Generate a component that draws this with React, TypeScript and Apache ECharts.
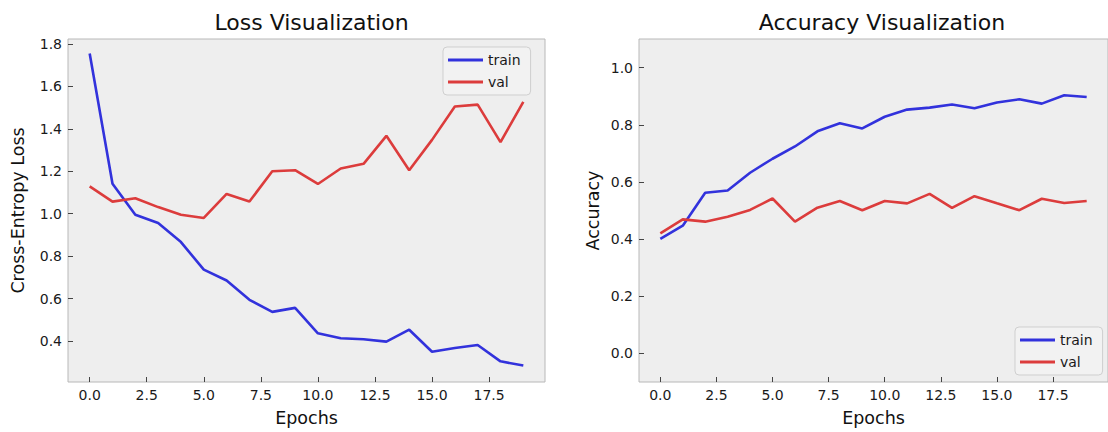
import React, { useEffect, useRef } from "react";
import * as echarts from "echarts";

const epochs = [0, 1, 2, 3, 4, 5, 6, 7, 8, 9, 10, 11, 12, 13, 14, 15, 16, 17, 18, 19];
const lossTrain = [1.755, 1.141, 0.995, 0.956, 0.866, 0.736, 0.685, 0.594, 0.537, 0.556, 0.436, 0.413, 0.408, 0.397, 0.453, 0.349, 0.367, 0.381, 0.304, 0.284];
const lossVal = [1.129, 1.057, 1.073, 1.031, 0.995, 0.98, 1.093, 1.057, 1.2, 1.205, 1.14, 1.213, 1.235, 1.367, 1.205, 1.348, 1.505, 1.514, 1.337, 1.527];
const accTrain = [0.401, 0.447, 0.562, 0.57, 0.632, 0.681, 0.724, 0.777, 0.805, 0.787, 0.828, 0.853, 0.86, 0.871, 0.858, 0.878, 0.889, 0.874, 0.903, 0.897];
const accVal = [0.42, 0.469, 0.461, 0.478, 0.502, 0.542, 0.461, 0.51, 0.533, 0.501, 0.533, 0.525, 0.558, 0.509, 0.55, 0.525, 0.501, 0.541, 0.526, 0.533];
const seriesNames = ["train", "val"];
const titles = ["Loss Visualization", "Accuracy Visualization"];
const yNames = ["Cross-Entropy Loss", "Accuracy"];
const xName = "Epochs";

const FONT = "DejaVu Sans";
const BLUE = "#3232dc";
const RED = "#dc3c3c";

const fmtStep = (step: number) => (v: number) =>
  Math.abs(v / step - Math.round(v / step)) < 1e-6 ? v.toFixed(1) : "";

export default function App() {
  const ref = useRef<HTMLDivElement>(null);
  useEffect(() => {
    if (!ref.current) return;
    const chart = echarts.init(ref.current, undefined, { renderer: "svg" });
    const pairs = (ys: number[]) => epochs.map((e, i) => [e, ys[i]]);
    const xAxisBase = (gridIndex: number) => ({
      type: "value",
      gridIndex,
      min: -0.95,
      max: 19.95,
      minInterval: 2.5,
      maxInterval: 2.5,
      name: xName,
      nameLocation: "middle",
      nameGap: 27,
      nameTextStyle: { fontFamily: FONT, fontSize: 17.5, color: "#111" },
      axisLine: { show: false, onZero: false },
      axisTick: { show: true, inside: true, length: 5, lineStyle: { color: "#444", width: 1 } },
      splitLine: { show: false },
      axisLabel: { formatter: fmtStep(2.5), margin: 6, fontFamily: FONT, fontSize: 14, color: "#1a1a1a", showMinLabel: false, showMaxLabel: false },
    });
    const yAxisBase = (gridIndex: number, min: number, max: number, name: string, gap: number) => ({
      type: "value",
      gridIndex,
      min,
      max,
      minInterval: 0.2,
      maxInterval: 0.2,
      name,
      nameLocation: "middle",
      nameGap: gap,
      nameTextStyle: { fontFamily: FONT, fontSize: 17.5, color: "#111" },
      axisLine: { show: false, onZero: false },
      axisTick: { show: true, inside: true, length: 5, lineStyle: { color: "#444", width: 1 } },
      splitLine: { show: false },
      axisLabel: { formatter: fmtStep(0.2), margin: 6, fontFamily: FONT, fontSize: 14, color: "#1a1a1a", showMinLabel: false, showMaxLabel: false },
    });
    const legendBase = (left: number, top: number) => ({
      left,
      top,
      orient: "vertical",
      data: seriesNames,
      icon: "rect",
      itemWidth: 35,
      itemHeight: 3,
      itemGap: 8,
      padding: [6, 10, 6, 5],
      backgroundColor: "#f2f2f2",
      borderColor: "#cfcfcf",
      borderWidth: 1,
      borderRadius: 4,
      selectedMode: false,
      textStyle: { fontFamily: FONT, fontSize: 14, color: "#1a1a1a" },
    });
    const lineSeries = (name: string, ys: number[], idx: number, color: string) => ({
      type: "line",
      name,
      xAxisIndex: idx,
      yAxisIndex: idx,
      data: pairs(ys),
      showSymbol: false,
      symbol: "none",
      color,
      lineStyle: { color, width: 2.6 },
    });
    chart.setOption({
      animation: false,
      title: [
        { text: titles[0], left: 306.5, top: 6, textAlign: "center", textStyle: { fontFamily: FONT, fontSize: 22, fontWeight: "normal", color: "#111" } },
        { text: titles[1], left: 877, top: 6, textAlign: "center", textStyle: { fontFamily: FONT, fontSize: 22, fontWeight: "normal", color: "#111" } },
      ],
      grid: [
        { left: 68, top: 39, width: 477, height: 347, show: true, backgroundColor: "#eeeeee", borderColor: "#b8b8b8", borderWidth: 1 },
        { left: 639, top: 39, width: 476, height: 347, show: true, backgroundColor: "#eeeeee", borderColor: "#b8b8b8", borderWidth: 1 },
      ],
      xAxis: [xAxisBase(0), xAxisBase(1)],
      yAxis: [
        yAxisBase(0, 0.2065, 1.8235, yNames[0], 41),
        yAxisBase(1, -0.1, 1.1, yNames[1], 37),
      ],
      legend: [legendBase(443, 47), legendBase(1015, 327)],
      series: [
        lineSeries(seriesNames[0], lossTrain, 0, BLUE),
        lineSeries(seriesNames[1], lossVal, 0, RED),
        lineSeries(seriesNames[0], accTrain, 1, BLUE),
        lineSeries(seriesNames[1], accVal, 1, RED),
      ],
    });
    return () => chart.dispose();
  }, []);
  return (
    <div
      ref={ref}
      style={{ position: "absolute", left: 0, top: 0, width: 1108, height: 432, background: "#fff" }}
    />
  );
}
